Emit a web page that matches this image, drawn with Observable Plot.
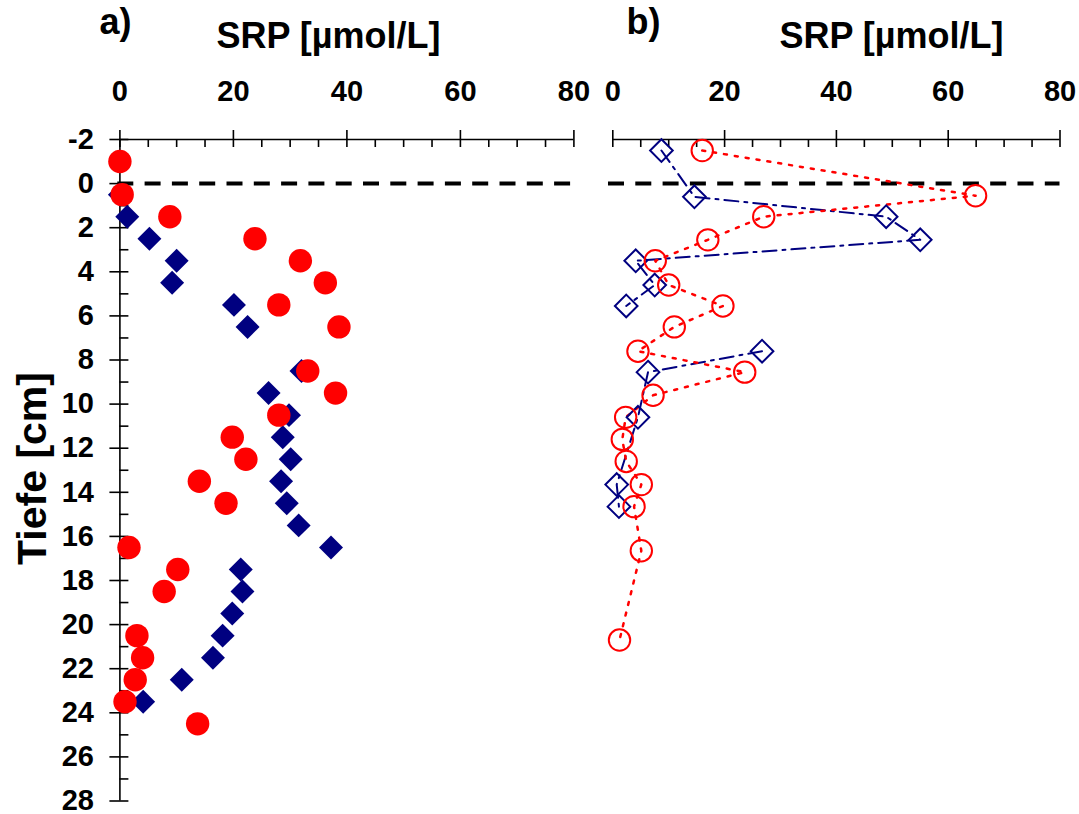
<!DOCTYPE html>
<html><head><meta charset="utf-8">
<script src="https://cdn.jsdelivr.net/npm/d3@7"></script>
<script src="https://cdn.jsdelivr.net/npm/@observablehq/plot@0.6"></script>
<style>
html,body{margin:0;padding:0;background:#fff;}
#wrap{position:relative;width:1079px;height:814px;overflow:hidden;background:#fff;}
#wrap > svg{position:absolute;top:0;}
</style></head><body><div id="wrap"></div>
<script>
// ---- tick values / labels ----
const xTicks = [0, 20, 40, 60, 80];
const xMinor = [5, 10, 15, 25, 30, 35, 45, 50, 55, 65, 70, 75];
const yTicks = [-2, 0, 2, 4, 6, 8, 10, 12, 14, 16, 18, 20, 22, 24, 26, 28];
const yMinor = [-1, 1, 3, 5, 7, 9, 11, 13, 15, 17, 19, 21, 23, 25, 27];
const xTitle = "SRP [µmol/L]";
const yTitle = "Tiefe [cm]";
const surfaceDepth = 0;

// ---- panel a: filled symbols ----
const depthA_red = [-1, 0.5, 1.5, 2.5, 3.5, 4.5, 5.5, 6.5, 8.5, 9.5, 10.5, 11.5, 12.5, 13.5, 14.5, 16.5, 17.5, 18.5, 20.5, 21.5, 22.5, 23.5, 24.5];
const srpA_red   = [0, 0.4, 8.8, 23.8, 31.8, 36.2, 28.0, 38.6, 33.1, 38.0, 28.0, 19.8, 22.2, 14.0, 18.7, 1.6, 10.2, 7.8, 3.0, 4.0, 2.7, 0.9, 13.7];
const depthA_blue = [0.5, 1.5, 2.5, 3.5, 4.5, 5.5, 6.5, 8.5, 9.5, 10.5, 11.5, 12.5, 13.5, 14.5, 15.5, 16.5, 17.5, 18.5, 19.5, 20.5, 21.5, 22.5, 23.5];
const srpA_blue   = [0, 1.3, 5.2, 10.0, 9.2, 20.1, 22.5, 32.0, 26.2, 29.8, 28.7, 30.1, 28.4, 29.4, 31.5, 37.2, 21.3, 21.6, 19.8, 18.1, 16.4, 10.9, 4.1];

// ---- panel b: open symbols with lines ----
const depthB_red = [-1.5, 0.55, 1.5, 2.55, 3.5, 4.6, 5.55, 6.5, 7.6, 8.55, 9.6, 10.6, 11.6, 12.6, 13.65, 14.65, 16.65, 20.7];
const srpB_red   = [16.0, 64.9, 27.0, 17.0, 7.6, 10.0, 19.7, 11.0, 4.5, 23.6, 7.2, 2.3, 1.7, 2.4, 5.1, 3.8, 5.1, 1.2];
const depthB_blue = [-1.5, 0.6, 1.5, 2.55, 3.5, 4.6, 5.55, 7.6, 8.55, 10.6, 13.65, 14.65];
const srpB_blue   = [8.7, 14.6, 48.9, 55.0, 4.1, 7.5, 2.4, 26.7, 6.3, 4.5, 0.7, 1.1];
const segB_blue   = [1, 1, 1, 1, 1, 1, 1, 2, 2, 2, 2, 2];

const RED = "#ff0000", NAVY = "#000080";
const FONT = "'Liberation Sans', Arial, Helvetica, sans-serif";

const rows = (xs, ys, extra) => xs.map((x, i) => ({x, y: ys[i], ...(extra ? {z: extra[i]} : {})}));
const label = (txt, dx, dy, size, extra = {}) =>
  Plot.text([txt], {frameAnchor: "top-left", textAnchor: "middle", lineAnchor: "middle", dx, dy,
    fontSize: size, fontWeight: "bold", fontFamily: FONT, fill: "black", ...extra});

function xAxisMarks() {
  return [
    Plot.ruleY([-2], {x1: 0, x2: 80, stroke: "black", strokeWidth: 1.6}),
    Plot.ruleX(xTicks, {x: d => d, y1: -2, y2: -2, insetTop: -9, insetBottom: -8, stroke: "black", strokeWidth: 1.6}),
    Plot.ruleX(xMinor, {x: d => d, y1: -2, y2: -2, insetTop: 0, insetBottom: -8, stroke: "black", strokeWidth: 1.6}),
    Plot.text(xTicks, {x: d => d, y: -2, dy: -48, text: d => String(d), fontSize: 29, fontWeight: "bold", fontFamily: FONT, fill: "black"})
  ];
}

function common(width, mL, mR) {
  return {
    width, height: 814,
    marginLeft: mL, marginRight: mR, marginTop: 139, marginBottom: 13.5,
    x: {domain: [0, 80], axis: null},
    y: {domain: [-2, 28], reverse: true, axis: null},
    style: {background: "transparent", overflow: "visible"}
  };
}

const wA = 592, wB = 487;
const plotA = Plot.plot({
  ...common(wA, 119.4, wA - 573.4),
  marks: [
    Plot.ruleY([surfaceDepth], {x1: -0.37, x2: 80, stroke: "black", strokeWidth: 4, strokeDasharray: "16,11.3"}),
    ...xAxisMarks(),
    Plot.ruleX([0], {y1: -2, y2: 28, stroke: "black", strokeWidth: 1.6}),
    Plot.ruleY(yTicks, {y: d => d, x1: 0, x2: 0, insetLeft: -10, insetRight: -9, stroke: "black", strokeWidth: 1.6}),
    Plot.ruleY(yMinor, {y: d => d, x1: 0, x2: 0, insetLeft: 0, insetRight: -9, stroke: "black", strokeWidth: 1.6}),
    Plot.text(yTicks, {x: 0, y: d => d, dx: -26, textAnchor: "end", text: d => String(d), fontSize: 29, fontWeight: "bold", fontFamily: FONT, fill: "black"}),
    Plot.dot(rows(srpA_blue, depthA_blue), {x: "x", y: "y", symbol: "diamond2", r: 10.8, fill: NAVY, stroke: "none"}),
    Plot.dot(rows(srpA_red, depthA_red), {x: "x", y: "y", symbol: "circle", r: 11.7, fill: RED, stroke: "none"}),
    label("a)", -4.4, -117, 36),
    label(xTitle, 208.6, -103, 36),
    label(yTitle, -87.4, 329, 41, {rotate: -90})
  ]
});
plotA.style.left = "0px";

const mLB = 612.3 - wA, mRB = wB - (1059.5 - wA);
const plotB = Plot.plot({
  ...common(wB, mLB, mRB),
  marks: [
    Plot.ruleY([surfaceDepth], {x1: -0.77, x2: 80, stroke: "black", strokeWidth: 4, strokeDasharray: "16,11.3"}),
    ...xAxisMarks(),
    Plot.line(rows(srpB_blue, depthB_blue, segB_blue), {x: "x", y: "y", z: "z", stroke: NAVY, strokeWidth: 2, strokeDasharray: "14,6,3,6"}),
    Plot.line(rows(srpB_red, depthB_red), {x: "x", y: "y", stroke: RED, strokeWidth: 2.5, strokeDasharray: "3,8"}),
    Plot.dot(rows(srpB_blue, depthB_blue), {x: "x", y: "y", symbol: "diamond2", r: 10.2, fill: "none", stroke: NAVY, strokeWidth: 2}),
    Plot.dot(rows(srpB_red, depthB_red), {x: "x", y: "y", symbol: "circle", r: 10.7, fill: "none", stroke: RED, strokeWidth: 2}),
    label("b)", 30.7, -117, 36),
    label(xTitle, 278.7, -103, 36)
  ]
});
plotB.style.left = wA + "px";

const wrap = document.getElementById("wrap");
wrap.appendChild(plotA);
wrap.appendChild(plotB);
</script></body></html>
